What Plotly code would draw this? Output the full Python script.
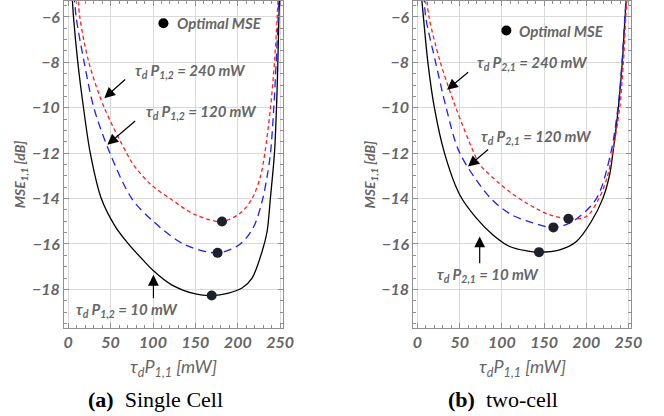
import plotly.graph_objects as go

# ---------------- data ----------------
# (a) Single Cell
a_black_x = [4.5, 6.2, 11.3, 18, 26, 39, 55, 70, 86, 100.5, 122, 150, 169.2, 189.3, 205, 216.9, 228.7, 234.6, 238.5, 243.3, 245.7, 247.3, 248.5, 249.4]
a_black_y = [-5.0, -6, -8, -10, -12, -14, -15.2, -15.95, -16.62, -17.18, -17.8, -18.2, -18.27, -18.16, -17.94, -17.5, -16.33, -15.45, -13.98, -12, -10, -8, -6, -5.0]
a_blue_x = [7.0, 9.3, 18.8, 30.2, 49.2, 75.0, 100.5, 136, 176.2, 203, 218.9, 229.5, 234.6, 238.6, 242.5, 245.3, 247.7, 248.6]
a_blue_y = [-5.0, -6, -8, -10, -12, -14, -15.01, -16, -16.39, -16, -15.23, -14, -13.03, -12, -10, -8, -6, -5.0]
a_red_x = [11.5, 13.6, 24.3, 42.5, 68.9, 76.8, 97.7, 120.2, 149.8, 181.4, 203, 216.9, 226.7, 231.9, 238.6, 243.3, 246.5, 247.8]
a_red_y = [-5.0, -6, -8, -10, -12, -12.51, -13.39, -14, -14.71, -15.01, -14.64, -14, -13.03, -12, -10, -8, -6, -5.0]
a_opt_x = [169.2, 176.2, 181.4]
a_opt_y = [-18.27, -16.39, -15.01]

# (b) two-cell
b_black_x = [4.5, 7, 12.3, 20, 32, 50, 69.8, 89.5, 109.2, 129, 144, 168.5, 188.3, 206, 219.8, 227.7, 231.5, 238, 242.7, 246, 247.8]
b_black_y = [-5.0, -6, -8, -10, -12, -13.83, -14.86, -15.6, -16.11, -16.3, -16.36, -16.26, -15.89, -15.01, -13.98, -12.95, -12, -10, -8, -6, -5.0]
b_blue_x = [8.0, 9.7, 21.5, 34, 50.2, 87, 111.3, 131, 161, 184.2, 212, 229, 237.5, 242.3, 245.7, 247.5]
b_blue_y = [-5.0, -6, -8, -10, -12, -14, -14.71, -15, -15.27, -15, -14, -12, -10, -8, -6, -5.0]
b_red_x = [10.5, 13.6, 27.1, 45.5, 67, 73.7, 96, 112, 127, 141, 157, 178.8, 200, 215, 225, 231, 239.6, 244, 246.8, 248.5]
b_red_y = [-5.0, -6, -8, -10, -12, -12.5, -13.3, -13.78, -14.15, -14.45, -14.72, -14.89, -14.79, -14, -13.03, -12, -10, -8, -6, -5.0]
b_opt_x = [144, 161, 178.8]
b_opt_y = [-16.36, -15.27, -14.89]

x_ticks = [0, 50, 100, 150, 200, 250]
y_ticks = [-18, -16, -14, -12, -10, -8, -6]

GRAY = "#666666"
FRAME = "#8f8f8f"
SANS = "Lato, 'Open Sans', 'Liberation Sans', sans-serif"
SMOOTH = 0.9

fig = go.Figure()

def add_panel(curves, xa, ya):
    (bx, by), (ux, uy), (rx, ry), (ox, oy) = curves
    fig.add_trace(go.Scatter(x=bx, y=by, mode="lines", line=dict(color="black", width=1.3, shape="spline", smoothing=SMOOTH),
                             xaxis=xa, yaxis=ya, showlegend=False, hoverinfo="skip"))
    fig.add_trace(go.Scatter(x=ux, y=uy, mode="lines", line=dict(color="#1f1fff", width=1.3, dash="8px,5px", shape="spline", smoothing=SMOOTH),
                             xaxis=xa, yaxis=ya, showlegend=False, hoverinfo="skip"))
    fig.add_trace(go.Scatter(x=rx, y=ry, mode="lines", line=dict(color="#ff2020", width=1.3, dash="4px,3px", shape="spline", smoothing=SMOOTH),
                             xaxis=xa, yaxis=ya, showlegend=False, hoverinfo="skip"))
    fig.add_trace(go.Scatter(x=ox, y=oy, mode="markers", marker=dict(color="#1d212c", size=10),
                             xaxis=xa, yaxis=ya, showlegend=False, hoverinfo="skip"))

add_panel([(a_black_x, a_black_y), (a_blue_x, a_blue_y), (a_red_x, a_red_y), (a_opt_x, a_opt_y)], "x", "y")
add_panel([(b_black_x, b_black_y), (b_blue_x, b_blue_y), (b_red_x, b_red_y), (b_opt_x, b_opt_y)], "x2", "y2")

tickfont = dict(family=SANS, size=16, color=GRAY, weight="bold", style="italic")

def xaxis(domain, anchor):
    return dict(domain=domain, anchor=anchor, range=[-5, 253], tickvals=x_ticks,
                showgrid=True, gridcolor="#dadada", gridwidth=1, zeroline=False,
                showline=True, linecolor=FRAME, linewidth=1, mirror="ticks",
                ticks="inside", ticklen=5, tickcolor=FRAME, tickfont=tickfont, automargin=False,
                minor=dict(dtick=10, tick0=0, ticks="inside", ticklen=3, tickcolor=FRAME, showgrid=False))

def yaxis(anchor):
    return dict(domain=[0, 1], anchor=anchor, range=[-19.7, -5.3], tickvals=y_ticks,
                showgrid=True, gridcolor="#dadada", gridwidth=1, zeroline=False,
                showline=True, linecolor=FRAME, linewidth=1, mirror="ticks",
                ticks="inside", ticklen=5, tickcolor=FRAME, tickfont=tickfont, automargin=False,
                minor=dict(dtick=0.5, tick0=0, ticks="inside", ticklen=3, tickcolor=FRAME, showgrid=False))

annotations = []
lab_font = dict(family=SANS, size=15, color=GRAY, weight="bold", style="italic")

def arrow(xr, yr, hx, hy, tx, ty):
    annotations.append(dict(xref=xr, yref=yr, axref=xr, ayref=yr, x=hx, y=hy, ax=tx, ay=ty, text="",
                            showarrow=True, arrowhead=2, arrowsize=1.8, arrowwidth=1.2, arrowcolor="black"))

def label(xr, yr, x, y, text, xanchor="center"):
    annotations.append(dict(xref=xr, yref=yr, x=x, y=y, text=text, showarrow=False, font=lab_font,
                            xanchor=xanchor, yanchor="middle"))

# panel (a)
label("x", "y", 144, -8.38, "τ<sub>d</sub> P<sub>1,2</sub> = 240 mW")
label("x", "y", 157.1, -10.17, "τ<sub>d</sub> P<sub>1,2</sub> = 120 mW")
label("x", "y", 68.9, -18.9, "τ<sub>d</sub> P<sub>1,2</sub> = 10 mW")
arrow("x", "y", 42.5, -9.58, 68.9, -8.70)
arrow("x", "y", 46.1, -11.63, 80.7, -10.53)
arrow("x", "y", 100.5, -17.36, 100.5, -18.46)
label("x", "y", 126.1, -6.28, "Optimal MSE", "left")
# panel (b)
label("x2", "y2", 136.5, -8.04, "τ<sub>d</sub> P<sub>2,1</sub> = 240 mW")
label("x2", "y2", 140.9, -11.31, "τ<sub>d</sub> P<sub>2,1</sub> = 120 mW")
label("x2", "y2", 83.5, -17.36, "τ<sub>d</sub> P<sub>2,1</sub> = 10 mW")
arrow("x2", "y2", 35, -9.21, 61.8, -8.38)
arrow("x2", "y2", 59.8, -12.59, 85.5, -11.78)
arrow("x2", "y2", 73.7, -15.67, 73.7, -16.92)
label("x2", "y2", 117.9, -6.60, "Optimal MSE", "left")

# legend dots
fig.add_trace(go.Scatter(x=[112.3], y=[-6.28], mode="markers", marker=dict(color="black", size=10),
                         xaxis="x", yaxis="y", showlegend=False, hoverinfo="skip"))
fig.add_trace(go.Scatter(x=[105.3], y=[-6.60], mode="markers", marker=dict(color="black", size=10),
                         xaxis="x2", yaxis="y2", showlegend=False, hoverinfo="skip"))

# axis titles & captions
title_font = dict(family=SANS, size=18, color=GRAY, style="italic")
ytitle_font = dict(family=SANS, size=14, color=GRAY, style="italic", weight="bold")
L0, L1, R0, R1 = 0.0, 0.3857, 0.616, 1.0
for (d0, d1, cap, cx, yx) in [(L0, L1, "<b>(a)</b>  Single Cell", 0.1605, -0.0776),
                              (R0, R1, "<b>(b)</b>  two-cell", 0.774, 0.54)]:
    annotations.append(dict(xref="paper", yref="paper", x=(d0 + d1) / 2, y=-0.122, text="τ<sub>d</sub>P<sub>1,1</sub> [mW]",
                            showarrow=False, font=title_font, xanchor="center", yanchor="middle"))
    annotations.append(dict(xref="paper", yref="paper", x=yx, y=0.47, text="MSE<sub>1,1</sub> [dB]", textangle=-90,
                            showarrow=False, font=ytitle_font, xanchor="center", yanchor="middle"))
    annotations.append(dict(xref="paper", yref="paper", x=cx, y=-0.22, text=cap,
                            showarrow=False, font=dict(family="'Liberation Serif', 'Times New Roman', serif", size=22, color="black"),
                            xanchor="center", yanchor="middle"))

fig.update_layout(
    width=664, height=416,
    margin=dict(l=64, r=33, t=1, b=88),
    paper_bgcolor="white", plot_bgcolor="white",
    xaxis=xaxis([L0, L1], "y"), yaxis=yaxis("x"),
    xaxis2=xaxis([R0, R1], "y2"), yaxis2=yaxis("x2"),
    annotations=annotations,
    showlegend=False,
)

fig.write_html("out.html", config={"displayModeBar": False},
               post_script="document.body.style.margin='0px';document.body.style.padding='0px';")
